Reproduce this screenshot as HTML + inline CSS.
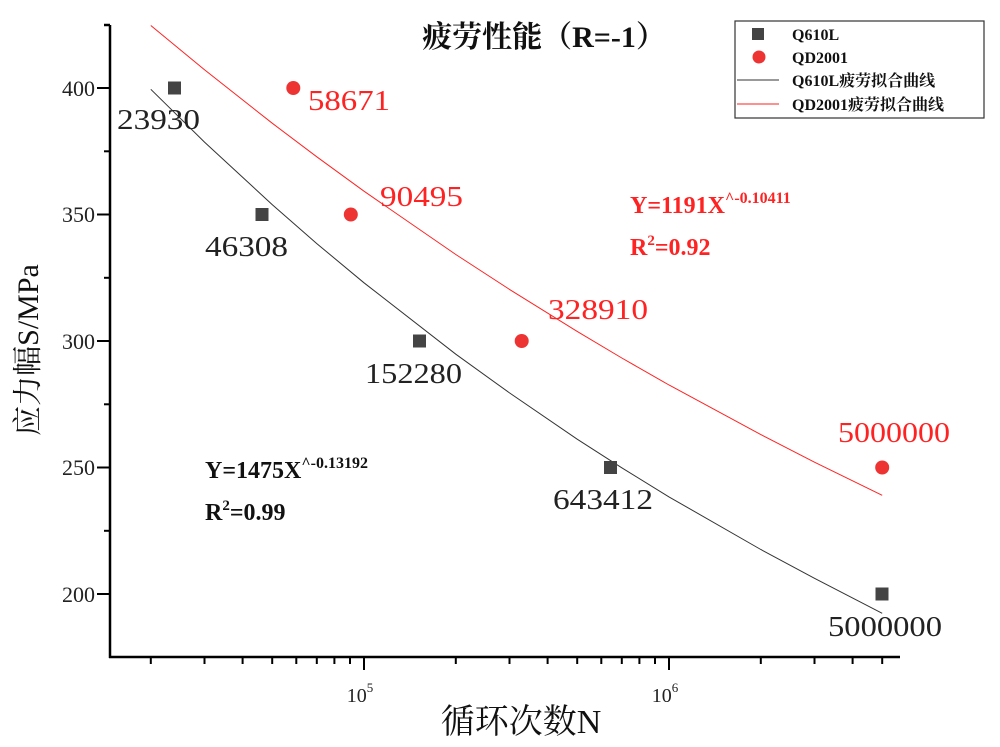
<!DOCTYPE html>
<html><head><meta charset="utf-8"><style>
html,body{margin:0;padding:0;background:#fff;}
svg{display:block;}
</style></head><body>
<svg width="1000" height="747" xmlns="http://www.w3.org/2000/svg" font-family="'Liberation Serif','Noto Serif CJK SC',serif">
<text x="544" y="47" font-size="30" font-weight="bold" text-anchor="middle" fill="#111">疲劳性能（R=-1）</text>
<g stroke="#000" stroke-width="2.5" fill="none">
<line x1="110" y1="25" x2="110" y2="658"/>
<line x1="104" y1="25" x2="110" y2="25"/>
<line x1="109" y1="657" x2="900" y2="657"/>
</g>
<g stroke="#000" stroke-width="2">
<line x1="104" y1="151.3" x2="110" y2="151.3"/>
<line x1="97" y1="214.5" x2="110" y2="214.5"/>
<line x1="104" y1="277.8" x2="110" y2="277.8"/>
<line x1="97" y1="341" x2="110" y2="341"/>
<line x1="104" y1="404.3" x2="110" y2="404.3"/>
<line x1="97" y1="467.5" x2="110" y2="467.5"/>
<line x1="104" y1="530.8" x2="110" y2="530.8"/>
<line x1="97" y1="594" x2="110" y2="594"/>
<line x1="97" y1="88" x2="110" y2="88"/>
<line x1="150.8" y1="657" x2="150.8" y2="664"/>
<line x1="204.5" y1="657" x2="204.5" y2="664"/>
<line x1="242.6" y1="657" x2="242.6" y2="664"/>
<line x1="272.2" y1="657" x2="272.2" y2="664"/>
<line x1="296.3" y1="657" x2="296.3" y2="664"/>
<line x1="316.8" y1="657" x2="316.8" y2="664"/>
<line x1="334.4" y1="657" x2="334.4" y2="664"/>
<line x1="350" y1="657" x2="350" y2="664"/>
<line x1="364" y1="657" x2="364" y2="670"/>
<line x1="455.8" y1="657" x2="455.8" y2="664"/>
<line x1="509.5" y1="657" x2="509.5" y2="664"/>
<line x1="547.6" y1="657" x2="547.6" y2="664"/>
<line x1="577.2" y1="657" x2="577.2" y2="664"/>
<line x1="601.3" y1="657" x2="601.3" y2="664"/>
<line x1="621.8" y1="657" x2="621.8" y2="664"/>
<line x1="639.4" y1="657" x2="639.4" y2="664"/>
<line x1="655" y1="657" x2="655" y2="664"/>
<line x1="669" y1="657" x2="669" y2="670"/>
<line x1="760.8" y1="657" x2="760.8" y2="664"/>
<line x1="814.5" y1="657" x2="814.5" y2="664"/>
<line x1="852.6" y1="657" x2="852.6" y2="664"/>
<line x1="882.2" y1="657" x2="882.2" y2="664"/>
</g>
<g font-size="22" fill="#222" text-anchor="end">
<text x="95" y="96">400</text><text x="95" y="222">350</text><text x="95" y="349">300</text><text x="95" y="475">250</text><text x="95" y="602">200</text>
</g>
<g font-size="20" fill="#222" text-anchor="middle">
<text x="360" y="702">10<tspan font-size="13" dy="-10">5</tspan></text>
<text x="665" y="702">10<tspan font-size="13" dy="-10">6</tspan></text>
</g>
<text x="521" y="733" font-size="34" text-anchor="middle" fill="#111">循环次数N</text>
<text transform="translate(38,350) rotate(-90)" font-size="30" text-anchor="middle" fill="#111">应力幅S/MPa</text>
<polyline fill="none" stroke="#333" stroke-width="1" points="150.8,89.3 204.5,142.1 272.2,204.6 316.8,243.6 364,282.8 455.8,354.2 509.5,392.9 577.2,439.2 621.8,467.8 669,496.9 760.8,549.5 814.5,578.3 882.2,613.3"/>
<polyline fill="none" stroke="#f22" stroke-width="1" points="150.8,25.5 204.5,69.8 272.2,123.2 316.8,156.8 364,191.2 455.8,254.5 509.5,289.4 577.2,331.4 621.8,358 669,385 760.8,434.6 814.5,462.2 882.2,495.3"/>
<g fill="#444">
<rect x="168" y="81.5" width="13" height="13"/>
<rect x="255.5" y="208" width="13" height="13"/>
<rect x="413" y="334.5" width="13" height="13"/>
<rect x="604" y="461" width="13" height="13"/>
<rect x="875.5" y="587.5" width="13" height="13"/>
</g>
<g fill="#ee3333">
<circle cx="293.3" cy="88" r="7"/>
<circle cx="350.8" cy="214.5" r="7"/>
<circle cx="521.7" cy="341" r="7"/>
<circle cx="882.2" cy="467.5" r="7"/>
</g>
<g font-size="29" fill="#222">
<text x="117" y="129" textLength="83" lengthAdjust="spacingAndGlyphs">23930</text>
<text x="205" y="256" textLength="83" lengthAdjust="spacingAndGlyphs">46308</text>
<text x="365" y="383" textLength="97" lengthAdjust="spacingAndGlyphs">152280</text>
<text x="553" y="509" textLength="100" lengthAdjust="spacingAndGlyphs">643412</text>
<text x="828" y="636" textLength="114" lengthAdjust="spacingAndGlyphs">5000000</text>
</g>
<g font-size="29" fill="#f22">
<text x="308" y="110" textLength="82" lengthAdjust="spacingAndGlyphs">58671</text>
<text x="380" y="206" textLength="83" lengthAdjust="spacingAndGlyphs">90495</text>
<text x="548" y="319" textLength="100" lengthAdjust="spacingAndGlyphs">328910</text>
<text x="838" y="442" textLength="112" lengthAdjust="spacingAndGlyphs">5000000</text>
</g>
<g font-size="24" font-weight="bold" fill="#111">
<text x="205" y="478">Y=1475X<tspan font-size="16" dy="-10">^-0.13192</tspan></text>
<text x="205" y="520">R<tspan font-size="15" dy="-10">2</tspan><tspan dy="10">=0.99</tspan></text>
</g>
<g font-size="24" font-weight="bold" fill="#f22">
<text x="630" y="213">Y=1191X<tspan font-size="16" dy="-10">^-0.10411</tspan></text>
<text x="630" y="255">R<tspan font-size="15" dy="-10">2</tspan><tspan dy="10">=0.92</tspan></text>
</g>
<rect x="735" y="21" width="249" height="97" fill="#fff" stroke="#333" stroke-width="1.2"/>
<rect x="752" y="28" width="12" height="12" fill="#444"/>
<circle cx="759" cy="57" r="6.5" fill="#ee3333"/>
<line x1="737" y1="80" x2="779" y2="80" stroke="#333" stroke-width="1"/>
<line x1="737" y1="104" x2="779" y2="104" stroke="#f22" stroke-width="1"/>
<g font-size="16" font-weight="bold" fill="#111">
<text x="792" y="40">Q610L</text>
<text x="792" y="63">QD2001</text>
<text x="792" y="86">Q610L疲劳拟合曲线</text>
<text x="792" y="110">QD2001疲劳拟合曲线</text>
</g>
</svg>
</body></html>
